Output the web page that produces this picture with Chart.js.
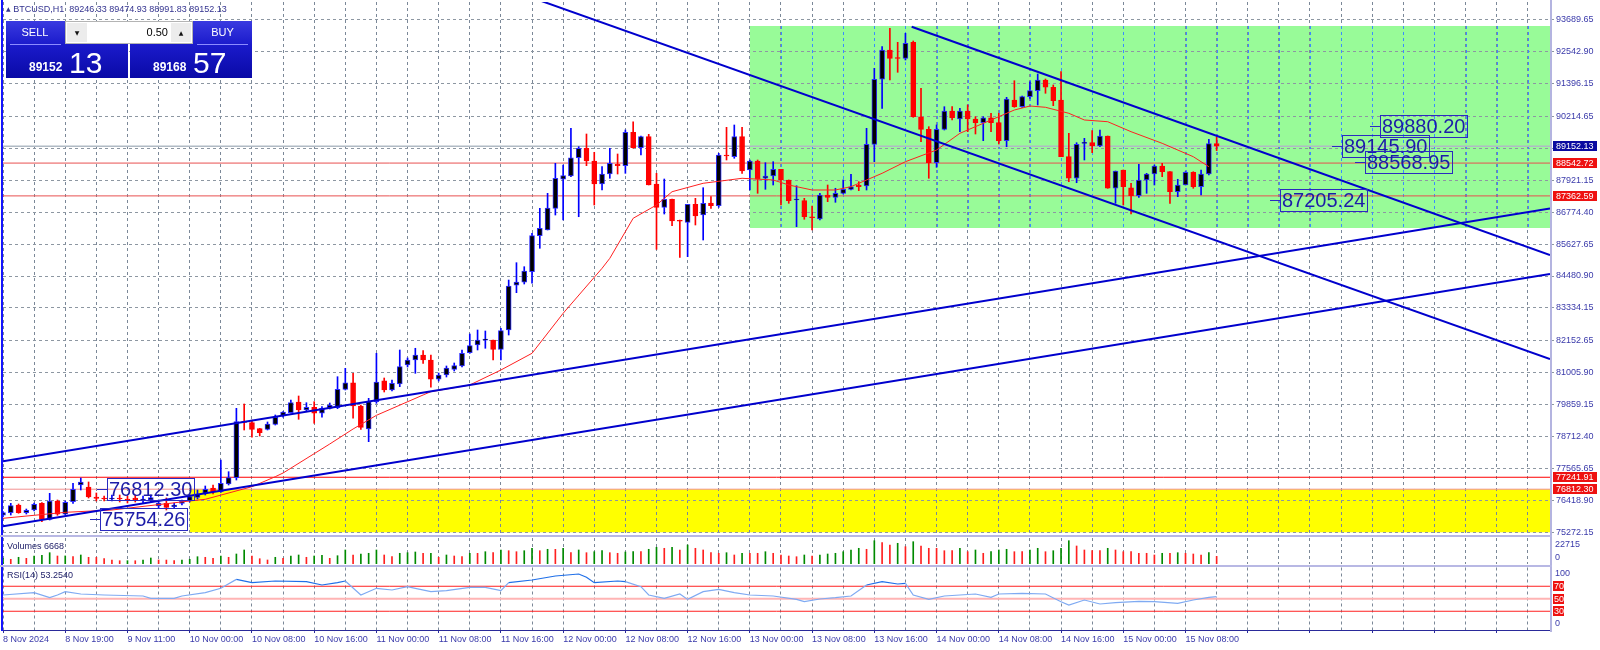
<!DOCTYPE html>
<html>
<head>
<meta charset="utf-8">
<title>BTCUSD,H1</title>
<script src="https://cdn.jsdelivr.net/npm/chart.js"></script>
<style>
  html, body { margin: 0; padding: 0; background: #fff; }
  body { width: 1600px; height: 650px; position: relative; overflow: hidden; font-family: 'Liberation Sans', Arial, sans-serif; }
  canvas { position: absolute; left: 0; }
  .ln { position: absolute; }
  #hdr { position: absolute; left: 6px; top: 4px; font-size: 9px; color: #33338f; white-space: pre; }
  #hdr .tri { font-family: 'DejaVu Sans', sans-serif; font-size: 6px; vertical-align: 1px; }
  .blk { position: absolute; top: 21px; height: 57px; width: 122px; background: linear-gradient(#3a3ae0, #1a1acb 42%, #0a0aa6); }
  .btn { position: absolute; top: 21px; height: 23px; line-height: 23px; text-align: center; color: #fff; font-size: 11px; }
  .sep { position: absolute; top: 44px; height: 1px; width: 51px; background: #8c8cff; }
  #lot { position: absolute; left: 65px; top: 21px; width: 126px; height: 21px; background: #fff; border: 1px solid #b4b4b4; }
  .arr { position: absolute; top: 1px; width: 20px; height: 19px; background: #ececec; font-family: 'DejaVu Sans', sans-serif; font-size: 6px; line-height: 19px; text-align: center; color: #111; }
  #lotv { position: absolute; right: 24px; top: 0; line-height: 21px; font-size: 11px; color: #000; }
  .px { position: absolute; top: 45px; width: 122px; height: 33px; color: #fff; }
  .px b { position: absolute; left: 23px; top: 15px; font-size: 12px; }
  .px span { position: absolute; left: 63px; top: 3px; font-size: 30px; line-height: 30px; }
  .ind { position: absolute; left: 7px; font-size: 9px; color: #22226a; }
</style>
</head>
<body>
<canvas id="mainChart" width="1600" height="535" style="top:0"></canvas>
<canvas id="volChart" width="1600" height="28" style="top:537px"></canvas>
<canvas id="rsiChart" width="1600" height="83" style="top:567px"></canvas>

<!-- panel frames -->
<div class="ln" style="left:1px;top:0;width:2px;height:631px;background:#1414ff"></div>
<div class="ln" style="left:1550px;top:0;width:2px;height:632px;background:#b4b4e0"></div>
<div class="ln" style="left:0;top:535px;width:1552px;height:2px;background:#b8b8e4"></div>
<div class="ln" style="left:0;top:565px;width:1552px;height:2px;background:#b8b8e4"></div>

<div id="hdr"><span class="tri">▲</span> BTCUSD,H1  89246.33 89474.93 88991.83 89152.13</div>
<div class="blk" style="left:6px"></div>
<div class="blk" style="left:130px"></div>
<div class="btn" style="left:6px;width:58px">SELL</div>
<div class="btn" style="left:193px;width:59px">BUY</div>
<div class="sep" style="left:10px"></div>
<div class="sep" style="left:197px"></div>
<div id="lot"><span class="arr" style="left:1px">▼</span><span id="lotv">0.50</span><span class="arr" style="right:1px">▲</span></div>
<div class="px" style="left:6px"><b>89152</b><span>13</span></div>
<div class="px" style="left:130px"><b>89168</b><span>57</span></div>
<div class="ind" style="top:541px">Volumes 6668</div>
<div class="ind" style="top:570px">RSI(14) 53.2540</div>

<script>
// ---- data (one value per bar) ----
const timeLabels = ['8 Nov 2024', '8 Nov 19:00', '9 Nov 11:00', '10 Nov 00:00', '10 Nov 08:00', '10 Nov 16:00',
  '11 Nov 00:00', '11 Nov 08:00', '11 Nov 16:00', '12 Nov 00:00', '12 Nov 08:00', '12 Nov 16:00',
  '13 Nov 00:00', '13 Nov 08:00', '13 Nov 16:00', '14 Nov 00:00', '14 Nov 08:00', '14 Nov 16:00',
  '15 Nov 00:00', '15 Nov 08:00'];

const opens = [75874, 75967, 76244, 75967, 76064, 76305, 75729, 76387, 75910, 76363,
  76964, 76892, 76532, 76478, 76460, 76496, 76460, 76496, 76424, 76424,
  76208, 76305, 76183, 76305, 76399, 76521, 76665, 76856, 76723, 76999,
  77226, 79241, 79205, 78989, 78967, 79147, 79446, 79565, 79950, 79661,
  79759, 79543, 79722, 79744, 80406, 80643, 79805, 78978, 79960, 80715,
  80381, 80597, 81280, 81460, 81640, 81460, 80766, 80920, 81125, 81244,
  81722, 82000, 82175, 82179, 81844, 82539, 84147, 84255, 84636, 85931,
  86136, 86916, 87960, 88078, 88736, 89075, 88618, 87791, 88150, 88499,
  88449, 89650, 89096, 89492, 87791, 86952, 87240, 86470, 86413, 87060,
  86675, 87107, 87010, 88808, 88773, 89492, 88294, 88618, 87996, 88078,
  88319, 87935, 87215, 87190, 86593, 86532, 87395, 87312, 87456, 87600,
  87754, 87718, 89218, 91557, 92611, 92312, 92312, 92887, 90211, 89758,
  88557, 89758, 90416, 90129, 90416, 90129, 89996, 90175, 89996, 89348,
  90812, 90571, 90931, 91147, 91531, 91269, 90812, 88773, 87996, 89254,
  89276, 89157, 89517, 87636, 88294, 87657, 87370, 87935, 88150, 88438,
  88233, 87514, 87754, 88211, 87693, 88150, 89246.33];
const highs = [76006, 76305, 76280, 76100, 76316, 76327, 76665, 76424, 76387, 77025,
  77215, 77072, 76676, 76568, 76604, 76604, 76568, 76604, 76568, 76604,
  76424, 76496, 76316, 76424, 76604, 76784, 76928, 76964, 77863, 77442,
  79722, 79877, 79302, 79003, 79230, 79482, 79601, 80021, 80165, 79924,
  79960, 79780, 79913, 80859, 81161, 80981, 79841, 80082, 81701, 80812,
  80740, 81820, 81532, 81881, 81795, 81640, 80992, 81244, 81352, 81820,
  82395, 82539, 82503, 82179, 82600, 84337, 84960, 84816, 86017, 86916,
  87456, 88535, 88474, 89794, 89132, 89589, 88931, 88413, 89075, 88870,
  89733, 90031, 89517, 89578, 88175, 87970, 87251, 86496, 87060, 87276,
  87657, 87334, 88895, 89830, 89913, 89830, 88654, 88654, 88557, 88593,
  88319, 87935, 87729, 87276, 87000, 87456, 87755, 87636, 87935, 88139,
  87873, 89794, 91952, 92729, 93391, 92887, 93211, 92934, 91233, 89852,
  89913, 90571, 90571, 90513, 90632, 90211, 90211, 90334, 90334, 90909,
  91506, 90956, 91470, 91747, 91567, 91352, 91830, 89614, 89276, 89434,
  89708, 89733, 89517, 88258, 88294, 87816, 88499, 88175, 88474, 88535,
  88233, 87960, 88233, 88233, 88294, 89398, 89474.93];
const lows = [75823, 75884, 75946, 75920, 76028, 75643, 75705, 75874, 75884, 76305,
  76784, 76496, 76388, 76388, 76388, 76352, 76316, 76352, 76316, 76352,
  76136, 76064, 76136, 76244, 76352, 76460, 76604, 76640, 76701, 76964,
  77143, 78942, 78680, 78726, 78942, 79121, 79399, 79554, 79327, 79600,
  79183, 79399, 79697, 79708, 80381, 79363, 78967, 78521, 79902, 80309,
  80345, 80500, 81208, 80981, 81341, 80478, 80704, 80848, 81064, 81208,
  81701, 81820, 81881, 81460, 81460, 82359, 83881, 84193, 84219, 85478,
  86136, 86675, 86496, 88053, 86614, 88449, 87035, 87575, 87996, 88150,
  88175, 89075, 88834, 87755, 85441, 86711, 86291, 85154, 85176, 86316,
  85776, 86916, 86952, 88654, 88715, 88175, 87575, 87456, 87600, 87755,
  87035, 87096, 86255, 86521, 86136, 86496, 87154, 87132, 87431, 87575,
  87550, 87575, 88593, 90513, 91531, 91808, 92251, 90189, 89312, 87996,
  88391, 89733, 90093, 89672, 89672, 89589, 89348, 89672, 89229, 89132,
  90549, 90549, 90873, 90632, 91053, 90607, 88773, 87873, 87837, 88654,
  88916, 89132, 87636, 87096, 87035, 86711, 87312, 87456, 87755, 88053,
  87096, 87334, 87754, 87636, 87395, 88114, 88991.83];
const closes = [75967, 76219, 75967, 76053, 76269, 75729, 76387, 75910, 76341, 76809,
  77072, 76532, 76478, 76460, 76496, 76460, 76424, 76424, 76460, 76507,
  76316, 76161, 76244, 76377, 76543, 76640, 76809, 76712, 77025, 77226,
  79241, 79219, 78967, 78845, 79158, 79399, 79590, 79925, 79661, 79759,
  79543, 79722, 79841, 80406, 80643, 79805, 79039, 79960, 80669, 80381,
  80622, 81219, 81460, 81640, 81460, 80766, 80920, 81172, 81255, 81701,
  81974, 82179, 82180, 81844, 82514, 84121, 84266, 84661, 85931, 86197,
  86927, 87996, 88089, 88736, 89075, 88618, 87791, 88150, 88535, 88449,
  89650, 89096, 89492, 87755, 86952, 87240, 86460, 86449, 87060, 86639,
  87096, 87010, 88834, 88798, 89492, 88258, 88618, 87960, 88078, 88319,
  87935, 87190, 87220, 86614, 86578, 87395, 87312, 87456, 87600, 87693,
  87693, 89218, 91557, 92611, 92312, 92305, 92851, 90211, 89758, 88557,
  89758, 90416, 90175, 90416, 90129, 89996, 90175, 89996, 89348, 90848,
  90571, 90931, 91147, 91531, 91269, 90787, 88773, 87996, 89218, 89262,
  89157, 89517, 87636, 88258, 87693, 87370, 87935, 88150, 88438, 88233,
  87514, 87754, 88211, 87693, 88150, 89247, 89152.13];
const volumes = [4980, 4110, 5860, 4980, 6990, 7600, 9880, 6990, 7050, 6380,
  7870, 5860, 5800, 4630, 3500, 2880, 2900, 2850, 3490, 5240,
  3500, 3450, 2880, 3500, 4110, 6380, 5860, 4980, 6990, 5860,
  8740, 12240, 6990, 4630, 3500, 5860, 4980, 6990, 7870, 5860,
  6990, 7600, 4980, 7250, 12240, 7870, 8740, 9350, 12240, 7870,
  6380, 9350, 9880, 10490, 9350, 9400, 5860, 7870, 6990, 6380,
  9350, 9300, 10750, 9880, 12240, 11620, 10750, 11620, 13720, 11620,
  12850, 12800, 13720, 9880, 12240, 9880, 10750, 11620, 9880, 9350,
  10490, 10750, 10750, 12850, 14600, 13720, 14600, 12240, 16600, 13720,
  12240, 9880, 9350, 9880, 7870, 9350, 9350, 9350, 10750, 9350,
  7870, 6990, 6380, 7870, 6990, 7870, 8740, 9350, 10750, 12240,
  13720, 12850, 20360, 18620, 16600, 18090, 15120, 19490, 15730, 13720,
  13720, 11620, 11620, 13720, 10750, 12240, 9350, 10750, 12240, 12850,
  10750, 10750, 12240, 13720, 10750, 11620, 13720, 20360, 15730, 12240,
  11620, 11620, 13720, 12240, 10750, 10750, 9350, 9350, 7870, 9350,
  9350, 9880, 9350, 8740, 7870, 9880, 6668];

// moving average and RSI(14), read at these bars
const maBars = [0, 8, 14, 24, 26, 32, 35, 36, 42, 45, 48, 54, 55, 60, 64, 68, 72, 77, 78, 81,
  84, 86, 90, 91, 95, 99, 101, 104, 107, 109, 111, 113, 116, 120, 123, 127, 130, 132, 134, 137,
  139, 142, 145, 149, 153, 155];
const maValues = [75766, 75981, 76064, 76388, 76449, 76902, 77262, 77395, 78438, 78978,
  79470, 80201, 80320, 80561, 81100, 81701, 83140, 84758, 85118, 86557,
  87035, 87513, 87816, 87852, 87996, 87935, 87755, 87575, 87575, 87694,
  87935, 88175, 88593, 89014, 89614, 90093, 90452, 90596, 90550, 90334,
  90093, 90031, 89672, 89254, 88772, 88413];
const rsiBars = [0, 4, 6, 7, 8, 10, 13, 18, 19, 22, 23, 26, 28, 30, 32, 35, 39, 41, 43, 44,
  46, 48, 50, 52, 53, 55, 57, 60, 62, 64, 65, 68, 71, 74, 75, 76, 79, 80, 82, 83,
  85, 87, 88, 90, 92, 94, 96, 99, 102, 103, 105, 107, 109, 111, 113, 115, 116, 117, 119, 121,
  123, 125, 127, 128, 131, 134, 136, 137, 139, 141, 143, 146, 148, 151, 153, 155, 156];
const rsiValues = [56, 59.7, 51.7, 56, 61.3, 57.6, 56, 54.4, 50.7, 50.7,
  54.4, 59.7, 66.7, 81, 75.7, 78.4, 77.3, 72, 75.7, 78.4,
  56, 66.7, 64, 69.3, 66.7, 61.3, 63, 68.3, 68.3, 63,
  75.7, 80, 86.4, 89.6, 84.3, 75.7, 78.4, 77.3, 69.3, 56,
  50.7, 57.6, 49, 61.3, 65, 59.7, 56, 54.4, 49, 45.3,
  49.6, 51.7, 54.4, 72, 77.3, 73.6, 74.7, 56, 49, 54.4,
  56, 57.6, 52.3, 57.6, 58.7, 57.6, 45.3, 40, 48, 41.6,
  43.7, 45.9, 45.3, 42.7, 48, 52.3, 53.25];
const rsiLevels = [70, 50, 30];

// price scale labels (89067.90 sits under the bid tag)
const priceTicks = [93689.65, 92542.90, 91396.15, 90214.65, 89067.90, 87921.15, 86774.40, 85627.65,
  84480.90, 83334.15, 82152.65, 81005.90, 79859.15, 78712.40, 77565.65, 76418.90, 75272.15];
const hiddenTicks = [89067.90];

// objects drawn on the chart
const hLinePrices = [89152.13, 88542.72, 87362.59, 77241.91, 76812.30];
const trendLines = [
  [[0, 75482], [198.85, 84553]],
  [[0, 77820], [198.85, 86909]],
  [[60, 95287], [198.85, 81496]],
  [[116.8, 93449], [198.85, 85237]]
];
const zoneBars = [[96, 198.85], [24, 198.85]];
const zonePrices = [[86208, 93474], [75262, 76812.30]];
const noteTexts = ['89880.20', '89145.90', '88568.95', '87205.24', '76812.30', '75754.26'];
const noteBars = [177.0, 172.1, 175.1, 164.2, 13.4, 12.5];
const notePrices = [89880.20, 89145.90, 88568.95, 87205.24, 76812.30, 75754.26];

// ---- styling ----
const FONT = "'Liberation Sans', Arial, sans-serif";
const X_MAX = 198.85;
const AXIS_TXT = '#3a3aaa';
const hLineColors = ['#b0bac4', '#e85050', '#e85050', '#ff0000', '#f29090'];
const tagColors = ['#0a0aa0', '#ee1111', '#ee1111', '#ee1111', '#ee1111'];
const zoneColors = ['#98fb98', '#ffff00'];
const gridBars = [];
for (let b = 0; b <= 196; b += 4) gridBars.push(b);

Chart.defaults.font.family = FONT;

const up = i => closes[i] >= opens[i];
const bars = closes.map((_, i) => i);

// no extra room for edge labels, the panels must line up pixel for pixel
function noPad(s) {
  s.paddingTop = 0; s.paddingBottom = 0; s.paddingLeft = 0; s.paddingRight = 0;
}

function xAxis(withLabels) {
  return {
    type: 'linear', min: 0, max: X_MAX, offset: false,
    afterBuildTicks: s => { s.ticks = gridBars.map(v => ({ value: v })); },
    afterFit: s => { s.height = withLabels ? 20 : 0; noPad(s); },
    grid: {
      color: '#7b8898', offset: false, drawTicks: withLabels, tickLength: 3,
      tickColor: c => (c.tick && c.tick.value % 8 === 0) ? '#2a2a9a' : 'rgba(0,0,0,0)'
    },
    border: { display: withLabels, color: '#2a2a9a', dash: [3, 3] },
    ticks: {
      display: withLabels, autoSkip: false, maxRotation: 0, align: 'start', padding: 1,
      font: { size: 9 }, color: AXIS_TXT,
      callback: v => (v % 8 === 0 && timeLabels[v / 8]) ? timeLabels[v / 8] : ''
    }
  };
}

function hiddenY(min, max) {
  return {
    position: 'right', min, max, beginAtZero: false,
    afterFit: s => { s.width = 50; noPad(s); },
    ticks: { display: false }, grid: { display: false }, border: { display: false }
  };
}

const baseOpts = {
  responsive: false, animation: false, events: [],
  plugins: { legend: { display: false }, tooltip: { enabled: false } }
};

// -------- main price panel --------
const mainDecor = {
  id: 'mainDecor',
  beforeDraw(chart) {
    const { ctx, chartArea: a, scales: { x, y } } = chart;
    ctx.save();
    ctx.beginPath(); ctx.rect(a.left, a.top, a.right - a.left, a.bottom - a.top); ctx.clip();
    zoneBars.forEach((zb, k) => {
      const x0 = x.getPixelForValue(zb[0]), x1 = x.getPixelForValue(zb[1]);
      const y0 = y.getPixelForValue(zonePrices[k][1]), y1 = y.getPixelForValue(zonePrices[k][0]);
      ctx.fillStyle = zoneColors[k];
      ctx.fillRect(x0, y0, x1 - x0, y1 - y0);
    });
    ctx.restore();
  },
  beforeDatasetsDraw(chart) {
    // grid shows blue over the green box
    const { ctx, scales: { x, y } } = chart;
    const y0 = y.getPixelForValue(zonePrices[0][1]), y1 = y.getPixelForValue(zonePrices[0][0]);
    ctx.save();
    ctx.strokeStyle = '#3a8cff'; ctx.lineWidth = 1; ctx.setLineDash([3, 3]);
    gridBars.filter(b => b > zoneBars[0][0]).forEach(b => {
      const px = Math.round(x.getPixelForValue(b)) + 0.5;
      ctx.beginPath(); ctx.moveTo(px, y0); ctx.lineTo(px, y1); ctx.stroke();
    });
    ctx.restore();
  },
  afterDraw(chart) {
    const { ctx, chartArea: a, scales: { x, y } } = chart;
    ctx.save();
    // price notes with a box
    ctx.font = '20px ' + FONT;
    ctx.textBaseline = 'middle';
    noteTexts.forEach((t, k) => {
      const px = Math.round(x.getPixelForValue(noteBars[k]));
      const py = Math.round(y.getPixelForValue(notePrices[k]));
      const w = Math.round(ctx.measureText(t).width + 4);
      ctx.strokeStyle = '#2a2ac0'; ctx.lineWidth = 1;
      ctx.strokeRect(px + 0.5, py - 11 + 0.5, w, 22);
      ctx.beginPath(); ctx.moveTo(px - 10, py + 0.5); ctx.lineTo(px, py + 0.5); ctx.stroke();
      ctx.fillStyle = '#1c1ca8';
      ctx.fillText(t, px + 2, py + 1);
    });
    // right-side price tags
    ctx.font = '9px ' + FONT;
    hLinePrices.forEach((p, k) => {
      const py = Math.round(y.getPixelForValue(p));
      ctx.fillStyle = tagColors[k];
      ctx.fillRect(a.right + 3, py - 5, 44, 10);
      ctx.fillStyle = '#fff';
      ctx.fillText(p.toFixed(2), a.right + 6, py + 0.5);
    });
    ctx.restore();
  }
};

new Chart(document.getElementById('mainChart'), {
  type: 'bar',
  data: {
    datasets: [
      ...hLinePrices.map((p, k) => ({
        type: 'line', data: [{ x: 0, y: p }, { x: X_MAX, y: p }],
        borderColor: hLineColors[k], borderWidth: k === 0 ? 1.5 : 1, pointRadius: 0, order: 6
      })),
      {
        data: bars.map(i => ({ x: i, y: [lows[i], highs[i]] })),
        backgroundColor: c => up(c.dataIndex) ? '#0000ff' : '#ff0000',
        barThickness: 1, grouped: false, order: 4
      },
      {
        data: bars.map(i => ({ x: i, y: [opens[i], closes[i]] })),
        backgroundColor: c => up(c.dataIndex) ? '#000000' : '#ff0000',
        borderColor: c => up(c.dataIndex) ? '#2c2cff' : '#ff0000',
        borderWidth: 1, borderSkipped: false, barThickness: 5, minBarLength: 1, grouped: false, order: 3
      },
      {
        type: 'line', data: maBars.map((b, k) => ({ x: b, y: maValues[k] })),
        borderColor: '#ff2020', borderWidth: 1, pointRadius: 0, order: 2
      },
      ...trendLines.map(t => ({
        type: 'line', data: t.map(p => ({ x: p[0], y: p[1] })),
        borderColor: '#0000cd', borderWidth: 2, pointRadius: 0, order: 1
      }))
    ]
  },
  options: {
    ...baseOpts,
    layout: { padding: { left: 3, right: 0, top: 2, bottom: 1 } },
    scales: {
      x: xAxis(false),
      y: {
        position: 'right', min: 75201, max: 94337, beginAtZero: false,
        afterBuildTicks: s => { s.ticks = priceTicks.map(v => ({ value: v })); },
        afterFit: s => { s.width = 50; noPad(s); },
        grid: { color: '#8d97a2', tickLength: 4, tickColor: '#8d97a2' },
        border: { display: false, dash: [3, 3] },
        ticks: {
          autoSkip: false, padding: 2, font: { size: 9 }, color: AXIS_TXT,
          callback: v => hiddenTicks.includes(v) ? '' : Number(v).toFixed(2)
        }
      }
    }
  },
  plugins: [mainDecor]
});

// -------- volumes --------
const volDecor = {
  id: 'volDecor',
  afterDraw(chart) {
    const { ctx, chartArea: a, scales: { y } } = chart;
    ctx.save();
    ctx.font = '9px ' + FONT; ctx.fillStyle = AXIS_TXT; ctx.textBaseline = 'middle';
    [22715, 0].forEach(v => {
      const py = Math.min(Math.max(y.getPixelForValue(v), a.top + 7), a.bottom - 6);
      ctx.fillText(String(v), a.right + 5, py);
    });
    ctx.restore();
  }
};

new Chart(document.getElementById('volChart'), {
  type: 'bar',
  data: {
    datasets: [{
      data: bars.map(i => ({ x: i, y: volumes[i] })),
      backgroundColor: c => (c.dataIndex === 0 || volumes[c.dataIndex] > volumes[c.dataIndex - 1]) ? '#008a00' : '#ff2020',
      barThickness: 1, grouped: false
    }]
  },
  options: {
    ...baseOpts,
    layout: { padding: { left: 3, right: 0, top: 1, bottom: 1 } },
    scales: { x: xAxis(false), y: hiddenY(0, 22715) }
  },
  plugins: [volDecor]
});

// -------- RSI(14) --------
const rsiDecor = {
  id: 'rsiDecor',
  afterDraw(chart) {
    const { ctx, chartArea: a, scales: { y } } = chart;
    ctx.save();
    ctx.font = '9px ' + FONT; ctx.textBaseline = 'middle';
    ctx.fillStyle = AXIS_TXT;
    [100, 0].forEach(v => {
      const py = Math.min(Math.max(y.getPixelForValue(v), a.top + 6.5), a.bottom - 6);
      ctx.fillText(String(v), a.right + 5, py);
    });
    rsiLevels.forEach(v => {
      const py = Math.round(y.getPixelForValue(v));
      ctx.fillStyle = '#ee1111';
      ctx.fillRect(a.right + 3, py - 5, 11, 10);
      ctx.fillStyle = '#fff';
      ctx.fillText(String(v), a.right + 4, py + 0.5);
    });
    ctx.restore();
  }
};

new Chart(document.getElementById('rsiChart'), {
  type: 'line',
  data: {
    datasets: [
      ...rsiLevels.map(v => ({
        data: [{ x: 0, y: v }, { x: X_MAX, y: v }],
        borderColor: v === 50 ? '#ffb4b4' : '#ff2020', borderWidth: v === 50 ? 2 : 1, pointRadius: 0, order: 2
      })),
      {
        data: rsiBars.map((b, k) => ({ x: b, y: rsiValues[k] })),
        borderWidth: 1.2, pointRadius: 0, order: 1,
        borderColor: '#7faaf2',
        segment: { borderColor: c => (c.p0.parsed.y > 70 && c.p1.parsed.y > 70) ? '#1f6fe8' : '#7faaf2' }
      }
    ]
  },
  options: {
    ...baseOpts,
    layout: { padding: { left: 3, right: 0, top: 0.5, bottom: 0 } },
    scales: { x: xAxis(true), y: hiddenY(0, 100) }
  },
  plugins: [rsiDecor]
});
</script>
</body>
</html>
